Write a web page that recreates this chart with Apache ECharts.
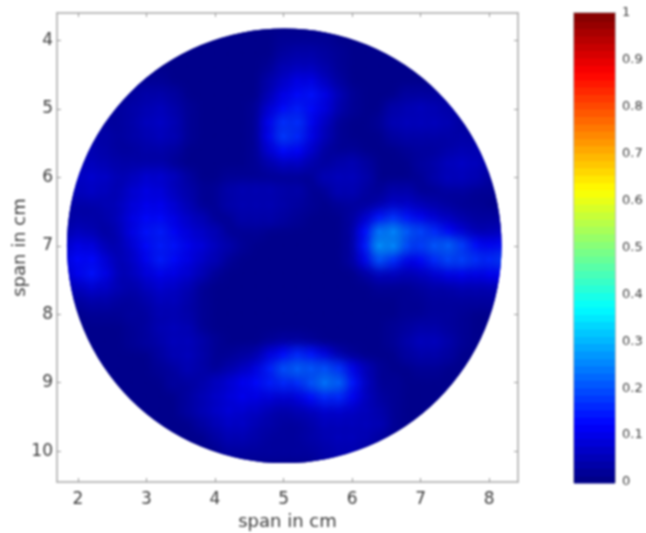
<!DOCTYPE html>
<html>
<head>
<meta charset="utf-8">
<style>html,body{margin:0;padding:0;background:#fff}#c{width:646px;height:533px;filter:blur(0.8px)}</style>
<script src="https://cdn.jsdelivr.net/npm/echarts@6/dist/echarts.min.js"></script>
</head>
<body>
<div id="c"></div>
<script>
// span positions of the sampled field (cm)
const spanX = [1.8,2.0,2.2,2.4,2.6,2.8,3.0,3.2,3.4,3.6,3.8,4.0,4.2,4.4,4.6,4.8,5.0,5.2,5.4,5.6,5.8,6.0,6.2,6.4,6.6,6.8,7.0,7.2,7.4,7.6,7.8,8.0,8.2];
const spanY = [3.8,4.0,4.2,4.4,4.6,4.8,5.0,5.2,5.4,5.6,5.8,6.0,6.2,6.4,6.6,6.8,7.0,7.2,7.4,7.6,7.8,8.0,8.2,8.4,8.6,8.8,9.0,9.2,9.4,9.6,9.8,10.0,10.2];
// field values in hundredths (row = spanY, column = spanX)
const fieldRows = [
[1,1,1,1,1,1,1,1,1,1,1,1,1,1,1,1,1,1,1,1,1,1,1,1,1,1,1,1,1,1,1,1,1],
[1,1,1,1,1,1,1,1,1,1,1,1,1,1,1,1,2,2,2,2,1,1,1,1,1,1,1,1,1,1,1,1,1],
[1,1,1,1,1,1,1,1,1,1,1,1,1,1,1,1,3,4,4,3,2,1,1,1,1,1,1,1,1,1,1,1,1],
[1,1,1,1,1,1,1,1,1,1,1,1,1,1,1,2,5,6,6,4,2,1,1,1,1,1,1,1,1,1,1,1,1],
[1,1,1,1,1,2,2,2,1,1,1,1,1,1,1,4,7,10,10,6,3,1,1,1,1,1,1,1,1,1,1,1,1],
[1,1,1,1,1,3,4,4,3,1,1,1,1,1,1,5,10,13,14,10,5,2,1,1,1,3,3,3,3,1,1,1,1],
[1,1,3,3,3,4,5,6,4,2,1,1,1,1,2,8,13,15,13,9,4,2,1,1,4,5,6,5,4,3,1,1,1],
[3,3,3,3,3,4,6,7,5,2,1,1,1,1,2,11,17,17,11,6,2,1,1,2,5,6,6,6,5,3,2,1,1],
[3,3,4,4,3,4,5,6,5,2,1,1,1,1,2,11,18,16,10,5,2,1,1,1,3,4,4,4,4,4,3,2,1],
[3,4,5,4,3,3,4,4,3,1,1,1,1,1,2,8,13,12,7,3,2,2,1,1,1,2,3,3,4,5,5,4,3],
[4,6,6,5,4,4,4,4,2,1,1,1,1,1,2,4,6,6,4,3,4,5,3,1,1,1,3,4,6,7,6,4,3],
[5,7,8,7,5,6,8,8,6,3,1,1,2,2,2,2,2,2,2,5,6,6,4,1,1,1,2,4,6,6,5,3,2],
[4,6,7,6,5,8,10,9,6,4,2,2,4,5,5,5,4,4,2,2,5,5,3,2,4,4,2,2,3,3,2,2,1],
[3,4,4,5,6,9,11,11,8,5,2,2,4,5,5,5,4,3,2,1,2,3,3,4,7,7,5,4,3,2,2,1,1],
[3,4,4,4,6,10,13,13,10,7,5,2,2,4,4,4,3,2,1,1,1,3,7,14,17,14,11,8,6,4,3,3,3],
[4,6,5,3,5,10,14,15,12,9,7,5,2,2,2,1,1,1,1,1,1,3,13,24,26,21,19,16,12,8,5,5,6],
[7,10,9,5,5,8,13,15,14,11,9,6,4,2,1,1,1,1,1,1,1,3,14,27,26,19,18,21,22,18,13,11,13],
[9,13,13,8,5,7,11,15,13,10,7,5,2,1,1,1,1,1,1,1,1,3,10,20,16,10,12,16,19,19,17,16,18],
[7,11,14,10,5,6,9,11,10,8,5,2,1,1,1,1,1,1,1,1,1,1,3,6,6,5,6,8,10,11,10,11,12],
[4,6,8,7,5,4,6,8,7,5,2,1,1,1,1,1,1,1,1,1,1,1,1,2,2,2,3,4,4,5,5,5,5],
[3,3,4,4,3,3,4,6,6,4,2,1,1,1,1,1,1,1,1,1,1,1,1,1,1,2,2,3,3,3,3,3,3],
[1,1,2,2,2,3,3,5,5,4,2,1,1,1,1,1,1,1,1,1,1,1,1,1,1,2,2,3,3,2,1,1,1],
[1,1,1,1,1,2,3,5,6,5,2,1,1,1,1,1,1,1,1,1,1,1,1,1,2,3,4,4,3,2,1,1,1],
[1,1,1,1,1,2,3,4,6,6,4,2,1,1,1,2,3,3,2,1,1,1,1,1,2,4,6,6,4,2,1,1,1],
[1,1,1,1,1,1,1,3,5,6,4,2,2,3,4,9,13,16,14,9,4,2,1,1,1,3,4,4,3,1,1,1,1],
[1,1,1,1,1,1,1,2,3,5,4,2,4,6,9,15,20,22,21,20,17,10,5,2,1,1,2,2,1,1,1,1,1],
[1,1,1,1,1,1,1,1,3,3,4,6,8,11,13,15,16,16,20,24,22,14,6,2,2,1,1,1,1,1,1,1,1],
[1,1,1,1,1,1,1,1,1,3,5,7,9,11,10,9,8,9,13,16,16,11,6,3,2,1,1,1,1,1,1,1,1],
[1,1,1,1,1,1,1,1,1,3,5,7,9,8,7,5,4,5,6,8,8,7,6,4,2,1,1,1,1,1,1,1,1],
[1,1,1,1,1,1,1,1,1,1,3,5,7,7,5,4,3,3,4,6,6,6,6,5,2,1,1,1,1,1,1,1,1],
[1,1,1,1,1,1,1,1,1,1,1,3,5,5,4,3,3,3,4,5,6,6,5,3,1,1,1,1,1,1,1,1,1],
[1,1,1,1,1,1,1,1,1,1,1,1,3,3,3,3,3,3,3,4,5,5,3,1,1,1,1,1,1,1,1,1,1],
[1,1,1,1,1,1,1,1,1,1,1,1,1,1,1,1,1,1,1,3,3,3,1,1,1,1,1,1,1,1,1,1,1]
];
// colour bar levels
const barLevels = [0.008,0.023,0.039,0.055,0.070,0.086,0.102,0.117,0.133,0.148,0.164,0.180,0.195,0.211,0.227,0.242,0.258,0.273,0.289,0.305,0.320,0.336,0.352,0.367,0.383,0.398,0.414,0.430,0.445,0.461,0.477,0.492,0.508,0.523,0.539,0.555,0.570,0.586,0.602,0.617,0.633,0.648,0.664,0.680,0.695,0.711,0.727,0.742,0.758,0.773,0.789,0.805,0.820,0.836,0.852,0.867,0.883,0.898,0.914,0.930,0.945,0.961,0.977,0.992];
const barStep = 0.015625;
const xTicks = [2,3,4,5,6,7,8];
const yTicks = [4,5,6,7,8,9,10];
const barTicks = [0,0.1,0.2,0.3,0.4,0.5,0.6,0.7,0.8,0.9,1];
const jetColors = ['#000080','#0000ff','#0080ff','#00ffff','#80ff80','#ffff00','#ff8000','#ff0000','#800000'];
const disc = {cx:5.01, cy:7.0, r:3.17};
const axisName = 'span in cm';

const fieldData = [];
spanY.forEach((y,j)=>spanX.forEach((x,i)=>fieldData.push([x,y,fieldRows[j][i]/100])));
fieldData.sort((a,b)=>a[2]-b[2]);
const barData = barLevels.map(v=>[0.5,v,v]);

const chart = echarts.init(document.getElementById('c'),null,{renderer:'canvas'});
const lineC = '#a8a8a8', textC = '#3c3c3c', font = 'DejaVu Sans';
const baseLine = {show:true,onZero:false,lineStyle:{color:lineC,width:1.5}};
const tick = {show:true,inside:true,length:4,lineStyle:{color:'#9a9a9a',width:1}};

function renderField(params,api){
  const p = api.coord([api.value(0),api.value(1)]);
  const s = api.size([0.2,0.2]);
  const rx = s[0]*1.35, ry = Math.abs(s[1])*1.35;
  const col = api.visual('color');
  const c0 = api.coord([disc.cx,disc.cy]);
  const rp = api.size([disc.r,disc.r])[0];
  const fade = a=>echarts.color.modifyAlpha(col,a);
  return {
    type:'rect',
    shape:{x:p[0]-rx,y:p[1]-ry,width:rx*2,height:ry*2},
    style:{fill:new echarts.graphic.RadialGradient(0.5,0.5,0.5,[
      {offset:0,color:fade(0.95)},{offset:0.35,color:fade(0.6)},{offset:0.7,color:fade(0.15)},{offset:1,color:fade(0)}
    ])},
    clipPath:{type:'circle',shape:{cx:c0[0],cy:c0[1],r:rp}}
  };
}
function renderBar(params,api){
  const a = api.coord([0,api.value(1)+barStep/2]);
  const b = api.coord([1,api.value(1)-barStep/2]);
  return {type:'rect',shape:{x:a[0],y:a[1],width:b[0]-a[0],height:b[1]-a[1]+1.5},style:{fill:api.visual('color')}};
}
function renderBase(params,api){
  const c0 = api.coord([disc.cx,disc.cy]);
  const rp = api.size([disc.r,disc.r])[0];
  return {type:'circle',shape:{cx:c0[0],cy:c0[1],r:rp},style:{fill:'#000090'}};
}

chart.setOption({
  animation:false,
  backgroundColor:'#fff',
  grid:[
    {left:57,top:13,width:461,height:469,outerBoundsMode:'none'},
    {left:574,top:13,width:41,height:469,outerBoundsMode:'none'}
  ],
  visualMap:[{show:false,type:'continuous',seriesIndex:[1,2],dimension:2,min:0,max:1,inRange:{color:jetColors}}],
  xAxis:[
    {type:'value',gridIndex:0,position:'bottom',min:1.695,max:8.42,name:axisName,nameLocation:'middle',nameGap:31,nameMoveOverlap:false,
     nameTextStyle:{fontFamily:font,fontSize:18,color:textC},
     axisLine:baseLine,axisTick:{...tick,customValues:xTicks},splitLine:{show:false},
     axisLabel:{customValues:xTicks,fontFamily:font,fontSize:17,color:textC,margin:9}},
    {type:'value',gridIndex:0,position:'top',min:1.695,max:8.42,axisLine:baseLine,axisTick:{...tick,customValues:xTicks},axisLabel:{show:false},splitLine:{show:false}},
    {type:'value',gridIndex:1,position:'bottom',min:0,max:1,axisLine:baseLine,axisTick:{show:false},axisLabel:{show:false},splitLine:{show:false}},
    {type:'value',gridIndex:1,position:'top',min:0,max:1,axisLine:baseLine,axisTick:{show:false},axisLabel:{show:false},splitLine:{show:false}}
  ],
  yAxis:[
    {type:'value',gridIndex:0,position:'left',inverse:true,min:3.6,max:10.45,name:axisName,nameLocation:'middle',nameGap:28,nameMoveOverlap:false,
     nameTextStyle:{fontFamily:font,fontSize:18,color:textC},
     axisLine:baseLine,axisTick:{...tick,customValues:yTicks},splitLine:{show:false},
     axisLabel:{customValues:yTicks,fontFamily:font,fontSize:17,color:textC,margin:4}},
    {type:'value',gridIndex:0,position:'right',inverse:true,min:3.6,max:10.45,axisLine:baseLine,axisTick:{...tick,customValues:yTicks},axisLabel:{show:false},splitLine:{show:false}},
    {type:'value',gridIndex:1,position:'right',min:0,max:1,axisLine:baseLine,axisTick:{...tick,lineStyle:{color:'#555',width:1},customValues:barTicks},splitLine:{show:false},
     axisLabel:{customValues:barTicks,fontFamily:font,fontSize:13,color:textC,margin:7,formatter:v=>String(+v.toFixed(1))}},
    {type:'value',gridIndex:1,position:'left',min:0,max:1,axisLine:baseLine,axisTick:{...tick,lineStyle:{color:'#555',width:1},customValues:barTicks},axisLabel:{show:false},splitLine:{show:false}}
  ],
  series:[
    {type:'custom',name:'disc',coordinateSystem:'cartesian2d',xAxisIndex:0,yAxisIndex:0,renderItem:renderBase,data:[[disc.cx,disc.cy]],silent:true,z:1},
    {type:'custom',name:'field',coordinateSystem:'cartesian2d',xAxisIndex:0,yAxisIndex:0,renderItem:renderField,data:fieldData,encode:{x:0,y:1},silent:true,progressive:0,z:2},
    {type:'custom',name:'colorbar',coordinateSystem:'cartesian2d',xAxisIndex:2,yAxisIndex:2,renderItem:renderBar,data:barData,encode:{x:0,y:1},silent:true,progressive:0,z:2}
  ]
});
</script>
</body>
</html>
